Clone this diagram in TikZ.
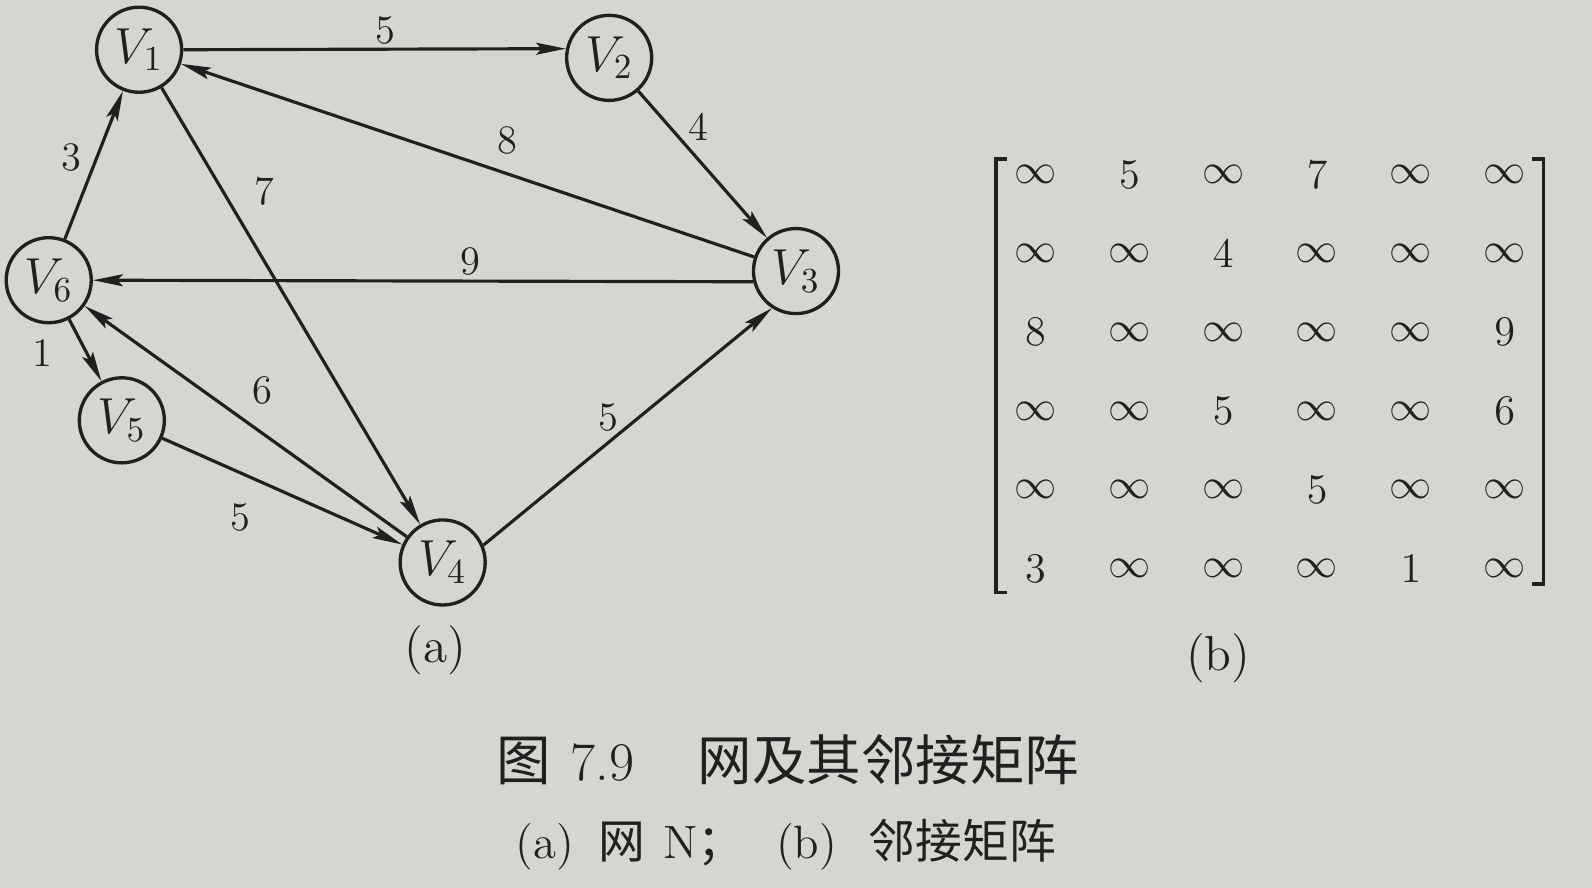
\documentclass[tikz,border=0pt]{standalone}
\usepackage{fontspec}
\newfontfamily\cjk{Noto Sans CJK SC}
\usetikzlibrary{arrows.meta,calc,matrix}
\definecolor{paper}{RGB}{215,213,208}
\definecolor{ink}{RGB}{32,32,32}
\begin{document}
\begin{tikzpicture}[x=0.0101531cm,y=-0.0101531cm,
  vert/.style={circle, draw=ink, line width=0.95pt, minimum size=0.85cm, inner sep=0pt, font=\fontsize{14.5}{16}\selectfont, text=ink},
  edge/.style={draw=ink, line width=0.9pt, -{Stealth[length=8.5pt,width=3.4pt,inset=1.6pt]}},
  lbl/.style={font=\fontsize{11.5}{13}\selectfont, text=ink, inner sep=0pt},
  bracket/.style={draw=ink, line width=0.95pt},
  sub/.style={font=\fontsize{14}{16}\selectfont, text=ink, inner sep=0pt},
  captext/.style={text=ink, inner sep=0pt}]
\fill[paper] (0,0) rectangle (1568,874.6);
\useasboundingbox (0,0) rectangle (1568,874.6);
% vertices
\node[vert] (v1) at (137,49) {$V_1$};
\node[vert] (v2) at (600,57) {$V_2$};
\node[vert] (v3) at (784,267) {$V_3$};
\node[vert] (v6) at (48,276) {$V_6$};
\node[vert] (v5) at (120,414) {$V_5$};
\node[vert] (v4) at (436,554) {$V_4$};
% edges
\draw[edge] (v1.east) -- (v2.168);
\draw[edge] (v2) -- (v3);
\draw[edge] (v3) -- (v1);
\draw[edge] (v1) -- (v4);
\draw[edge] (v3.194) -- (v6.east);
\draw[edge] (v6) -- (v1);
\draw[edge] (v6) -- (v5);
\draw[edge] (v4) -- (v6);
\draw[edge] (v5) -- (v4);
\draw[edge] (v4.23) -- (v3.237);
% edge labels
\node[lbl] (l12) at (380,30) {5};
\node[lbl] (l23) at (688,125) {4};
\node[lbl] (l31) at (500,138) {8};
\node[lbl] (l14) at (260,188) {7};
\node[lbl] (l36) at (463,258) {9};
\node[lbl] (l61) at (70,155) {3};
\node[lbl] (l65) at (42,348) {1};
\node[lbl] (l46) at (258,385) {6};
\node[lbl] (l54) at (237,510) {5};
\node[lbl] (l43) at (599,411) {5};
\node[sub] (suba) at (429,640) {(a)};
% matrix
\matrix (M) [matrix of math nodes, inner sep=0pt,
  nodes={minimum width=0.938cm, minimum height=0.787cm, inner sep=0pt, anchor=center, font=\fontsize{12.5}{14}\selectfont, text=ink},
  column sep=0pt, row sep=0pt] at (1251,366) {
\infty & 5 & \infty & 7 & \infty & \infty \\
\infty & \infty & 4 & \infty & \infty & \infty \\
8 & \infty & \infty & \infty & \infty & 9 \\
\infty & \infty & 5 & \infty & \infty & 6 \\
\infty & \infty & \infty & 5 & \infty & \infty \\
3 & \infty & \infty & \infty & 1 & \infty \\
};
\draw[bracket] ($(M.north west)+(19,24)$) -- ++(-11,0) |- ($(M.south west)+(19,-16)$);
\draw[bracket] ($(M.north east)+(-20,24)$) -- ++(11,0) |- ($(M.south east)+(-20,-24)$);
\node[sub] (subb) at (1200,648) {(b)};
% captions
\node[captext, font=\fontsize{15.5}{17}\selectfont] (cap1) at (776,748) {{\cjk 图}\hspace{5.5pt}7.9\hspace{18pt}{\cjk 网及其邻接矩阵}};
\node[captext, font=\fontsize{13.3}{15}\selectfont] (cap2) at (774,832) {(a)\hspace{7pt}{\cjk 网}\hspace{5pt}N{\cjk ；}\hspace{9pt}(b)\hspace{9pt}{\cjk 邻接矩阵}};
\end{tikzpicture}
\end{document}
